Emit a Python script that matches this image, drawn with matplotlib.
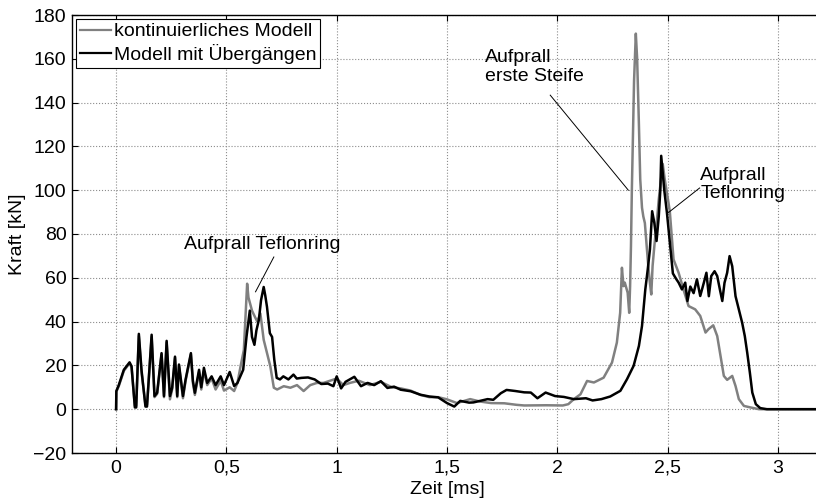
import matplotlib
matplotlib.use('Agg')
import matplotlib.pyplot as plt
from matplotlib.ticker import FuncFormatter

plt.rcParams['font.family'] = ['Liberation Sans', 'DejaVu Sans']

# kontinuierliches Modell (grau)
t_kont = [0.0, 0.001, 0.012, 0.035, 0.05, 0.061, 0.07, 0.085, 0.091, 0.103, 0.115, 0.133, 0.14,
          0.161, 0.174, 0.186, 0.206, 0.217, 0.229, 0.244, 0.254, 0.267, 0.277, 0.285, 0.303,
          0.315, 0.339, 0.348, 0.357, 0.376, 0.386, 0.398, 0.413, 0.433, 0.451, 0.474, 0.489,
          0.515, 0.535, 0.55, 0.565, 0.579, 0.594, 0.6, 0.616, 0.63, 0.64, 0.654, 0.669, 0.684,
          0.699, 0.715, 0.73, 0.76, 0.79, 0.82, 0.85, 0.88, 0.91, 0.94, 0.97, 1.0, 1.03, 1.06,
          1.1, 1.15, 1.2, 1.25, 1.29, 1.335, 1.38, 1.42, 1.46, 1.5, 1.545, 1.605, 1.65, 1.7,
          1.76, 1.815, 1.85, 1.95, 2.025, 2.05, 2.075, 2.105, 2.135, 2.166, 2.196, 2.21, 2.248,
          2.27, 2.285, 2.293, 2.3, 2.306, 2.319, 2.326, 2.33, 2.334, 2.338, 2.348, 2.356, 2.362,
          2.37, 2.376, 2.384, 2.39, 2.397, 2.41, 2.418, 2.426, 2.432, 2.44, 2.452, 2.46, 2.47,
          2.478, 2.487, 2.497, 2.51, 2.52, 2.527, 2.55, 2.572, 2.595, 2.625, 2.648, 2.672,
          2.685, 2.707, 2.725, 2.74, 2.755, 2.77, 2.793, 2.808, 2.823, 2.846, 2.876, 2.914, 3.2]
f_kont = [0, 8, 10.5, 17.5, 19.5, 21, 19, 1.5, 1.5, 33.5, 17, 2, 2,
          33, 5.5, 7, 25, 5.5, 30.5, 4.5, 9, 23.5, 5.5, 20, 5,
          13, 25, 12, 6.5, 17, 9, 17.5, 11, 14, 9, 13, 8.5,
          10, 8.3, 12, 20, 27, 57.3, 51, 45, 42, 40, 43.7, 31.7, 25.6,
          19.6, 9.8, 9, 10.5, 9.8, 11, 8.3, 11, 12, 12, 13, 14, 11, 12,
          13, 11, 12.5, 10, 9.5, 8.5, 6.5, 5.5, 5.5, 4.5, 2.8, 4.6, 3.5, 2.8,
          2.7, 2, 1.7, 1.8, 1.7, 2.3, 4.6, 6.8, 12.9, 12.2, 13.7, 14.4, 21.3,
          30.4, 44, 64.6, 56.2, 57.8, 53.2, 44, 56, 74.5, 100, 150, 171.5, 160,
          130, 105, 92, 88, 85, 68.4, 59.3, 52.4, 65.4, 74.5, 86.6, 95.8, 105,
          112, 105, 98.8, 90.4, 77.5, 68.4, 62.3, 54.7, 47.1, 45.6, 42.6, 35,
          36.5, 38.3, 33.4, 24.3, 15.2, 13.4, 15.2, 10.6, 4.6, 1.5, 0.8, 0, 0]

# Modell mit Übergängen (schwarz)
t_ueb = [0.0, 0.001, 0.012, 0.035, 0.05, 0.061, 0.07, 0.085, 0.091, 0.103, 0.115, 0.133, 0.14,
         0.161, 0.174, 0.186, 0.206, 0.217, 0.229, 0.244, 0.254, 0.267, 0.277, 0.285, 0.303,
         0.315, 0.339, 0.348, 0.357, 0.376, 0.386, 0.398, 0.413, 0.433, 0.451, 0.474, 0.489,
         0.515, 0.535, 0.55, 0.576, 0.591, 0.606, 0.616, 0.627, 0.636, 0.647, 0.657, 0.669,
         0.676, 0.684, 0.697, 0.707, 0.717, 0.728, 0.743, 0.758, 0.781, 0.804, 0.819, 0.84,
         0.87, 0.9, 0.93, 0.96, 0.985, 1.0, 1.02, 1.04, 1.08, 1.11, 1.14, 1.17, 1.2, 1.23,
         1.26, 1.29, 1.335, 1.38, 1.42, 1.46, 1.5, 1.533, 1.56, 1.6, 1.62, 1.684, 1.71, 1.744,
         1.77, 1.81, 1.85, 1.88, 1.91, 1.947, 1.99, 2.03, 2.075, 2.13, 2.16, 2.2, 2.24, 2.286,
         2.316, 2.346, 2.37, 2.384, 2.399, 2.41, 2.42, 2.43, 2.44, 2.45, 2.46, 2.467, 2.471,
         2.478, 2.485, 2.497, 2.512, 2.524, 2.54, 2.55, 2.565, 2.58, 2.59, 2.603, 2.618, 2.633,
         2.648, 2.665, 2.676, 2.687, 2.698, 2.713, 2.725, 2.737, 2.748, 2.758, 2.77, 2.781,
         2.793, 2.808, 2.823, 2.838, 2.85, 2.861, 2.873, 2.884, 2.9, 2.92, 2.95, 3.2]
f_ueb = [0, 8.3, 11, 18, 20, 21.4, 19.6, 0.8, 0.8, 34.4, 18, 1.2, 1.2,
         34, 6, 7.5, 25.6, 6, 31.2, 6, 9.8, 24, 6, 20.4, 6,
         13.6, 25.6, 13, 7.5, 18, 10, 18.9, 12, 15, 11, 15, 11,
         17, 10.6, 12, 18, 33, 45, 33, 29.4, 36, 40.7, 49.8, 55.8,
         52, 46.7, 34.7, 33, 22.6, 14.3, 13.6, 15, 13.6, 15.8, 14, 14.3,
         14.5, 13.6, 11.5, 11.7, 10.5, 15, 9.5, 12.5, 14.8, 10.5, 12, 11, 12.8, 9.7,
         10.3, 8.9, 8.2, 6.6, 5.8, 5.4, 2.8, 1.2, 3.8, 3.0, 3.1, 4.6, 4.3, 7.3,
         8.8, 8.3, 7.7, 7.6, 5, 7.6, 6, 5.6, 4.6, 5, 4, 4.6, 5.8, 8.4,
         13.7, 19.8, 28.9, 38, 54.7, 63.8, 73, 90.4, 85, 76.8, 88, 100, 115.7,
         108, 100, 89.7, 74.5, 62, 59.3, 57.8, 54.7, 57.8, 49.4, 56, 53, 59.3,
         51.7, 58, 62.3, 51.6, 60.8, 63, 60.8, 54.7, 49.4, 57.7, 62.3, 69.9,
         65.3, 51.6, 45.6, 39.5, 33.4, 25.8, 16.7, 7.6, 2.3, 0.5, 0, 0]

x_ticks = [0, 0.5, 1, 1.5, 2, 2.5, 3]
y_ticks = [-20, 0, 20, 40, 60, 80, 100, 120, 140, 160, 180]

fs = 14

fig = plt.figure(figsize=(8.16, 5.01), dpi=100)
ax = fig.add_axes([72 / 816, 48 / 501, 750 / 816, 438 / 501])

ax.plot(t_kont, f_kont, color='#808080', lw=1.8, label='kontinuierliches Modell')
ax.plot(t_ueb, f_ueb, color='black', lw=1.8, label='Modell mit Übergängen')

ax.set_xlim(-0.2, 3.2)
ax.set_ylim(-20, 180)
ax.set_xticks(x_ticks)
ax.set_yticks(y_ticks)
ax.xaxis.set_major_formatter(FuncFormatter(lambda v, p: ('%g' % v).replace('.', ',')))
ax.yaxis.set_major_formatter(FuncFormatter(lambda v, p: ('%g' % v).replace('-', '\u2212')))
ax.tick_params(direction='in', length=4, width=0.8, top=True, right=True, labelsize=fs)
ax.tick_params(axis='x', pad=5)
ax.tick_params(axis='y', pad=4)
ax.grid(True, linestyle=':', color='0.55', lw=0.8)
for s in ax.spines.values():
    s.set_linewidth(1.0)

ax.set_xlabel('Zeit [ms]', fontsize=fs)
ax.set_ylabel('Kraft [kN]', fontsize=fs)
ax.xaxis.set_label_coords(0.5, -0.064)
ax.yaxis.set_label_coords(-0.061, 0.5)

leg = ax.legend(loc='upper left', fontsize=fs, fancybox=False, framealpha=1,
                edgecolor='black', borderaxespad=0.2, handlelength=1.6,
                handletextpad=0.15, borderpad=0.2, labelspacing=0.2)
leg.get_frame().set_linewidth(0.8)
for h in leg.get_lines():
    h.set_linewidth(1.6)

# Beschriftungen
ax.text(0.306, 75.3, 'Aufprall Teflonring', fontsize=fs, ha='left', va='center')
ax.plot([0.715, 0.632], [69.5, 53.6], color='black', lw=0.7)
ax.text(1.673, 156.2, 'Aufprall\nerste Steife', fontsize=fs, ha='left', va='center',
        linespacing=1.1)
ax.plot([1.968, 2.322], [143.4, 100], color='black', lw=0.7)
ax.text(2.648, 102.7, 'Aufprall\nTeflonring', fontsize=fs, ha='left', va='center',
        linespacing=1.1)
ax.plot([2.645, 2.504], [101, 89.8], color='black', lw=0.7)

fig.savefig('out.png', dpi=100)
